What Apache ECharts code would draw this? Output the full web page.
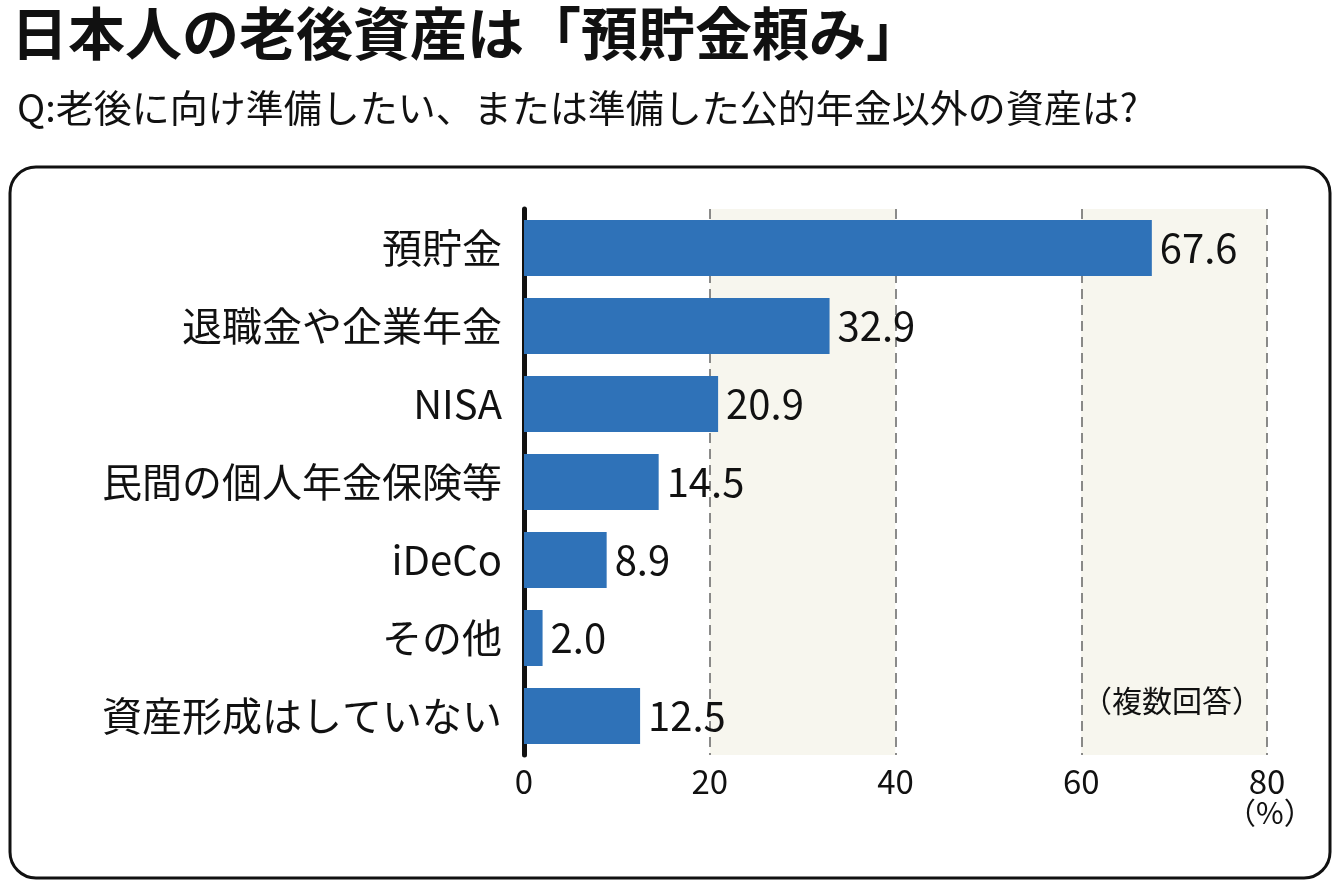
<!DOCTYPE html>
<html><head><meta charset="utf-8">
<script src="https://cdn.jsdelivr.net/npm/echarts@6/dist/echarts.min.js"></script>
<style>body{margin:0}#c{width:1340px;height:888px}</style></head>
<body><div id="c"></div>
<script>
var categories = ['預貯金', '退職金や企業年金', 'NISA', '民間の個人年金保険等', 'iDeCo', 'その他', '資産形成はしていない'];
var values = [67.6, 32.9, 20.9, 14.5, 8.9, 2.0, 12.5];
var font = '"Noto Sans CJK JP", sans-serif';

var chart = echarts.init(document.getElementById('c'));
chart.setOption({
  backgroundColor: '#fff',
  textStyle: { fontFamily: font },
  title: [
    { text: '日本人の老後資産は「預貯金頼み」', left: 6, top: 0,
      textStyle: { fontSize: 57, fontWeight: 'bold', color: '#111', fontFamily: font } },
    { text: 'Q:老後に向け準備したい、または準備した公的年金以外の資産は?', left: 12, top: 84,
      textStyle: { fontSize: 38, fontWeight: 'normal', color: '#111', fontFamily: font } }
  ],
  graphic: [
    { type: 'rect', shape: { x: 10, y: 167, width: 1320, height: 711, r: 26 }, z: -10,
      style: { fill: 'none', stroke: '#111', lineWidth: 3 } },
    { type: 'text', left: 1082, top: 686, z: 10,
      style: { text: '（複数回答）', fontSize: 30, fill: '#111', fontFamily: font } },
    { type: 'text', left: 1226, top: 798,
      style: { text: '（%）', fontSize: 30, fill: '#111', fontFamily: font } }
  ],
  grid: { left: 524, right: 73, top: 209, bottom: 133 },
  xAxis: {
    type: 'value', min: 0, max: 80, interval: 20,
    axisLine: { show: false }, axisTick: { show: false },
    axisLabel: { fontSize: 33, color: '#111', margin: 10, fontFamily: font },
    splitLine: { show: true, lineStyle: { color: '#666', type: [10, 6], width: 1.5 } },
    splitArea: { show: true, areaStyle: { color: ['#ffffff', '#f7f6ee'] } }
  },
  yAxis: {
    type: 'category', data: categories, inverse: true,
    axisLine: { show: true, lineStyle: { color: '#111', width: 5 } },
    axisTick: { show: false },
    axisLabel: { fontSize: 40, color: '#111', margin: 22, fontFamily: font }
  },
  series: [{
    type: 'bar', data: values, barWidth: 56,
    itemStyle: { color: '#2f72b8' },
    label: { show: true, position: 'right', distance: 8, fontSize: 40, color: '#111',
      fontFamily: font, formatter: function (p) { return p.value.toFixed(1); } }
  }]
});
</script></body></html>
